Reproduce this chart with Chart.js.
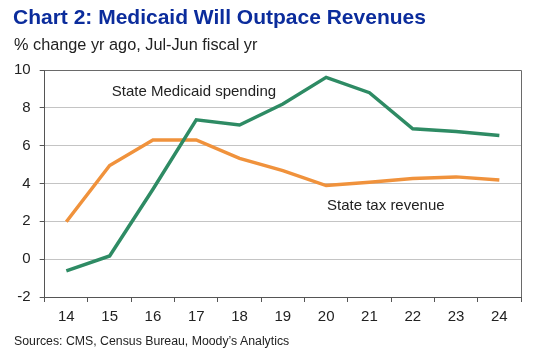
<!DOCTYPE html>
<html>
<head>
<meta charset="utf-8">
<script src="https://cdn.jsdelivr.net/npm/chart.js@4/dist/chart.umd.min.js"></script>
<style>
  html, body { margin: 0; padding: 0; background: #fff; }
  body { width: 547px; height: 354px; position: relative; overflow: hidden; font-family: "Liberation Sans", Arial, sans-serif; }
  #title { position: absolute; left: 13px; top: 5px; font-size: 21px; font-weight: bold; color: #0b2c9c; white-space: nowrap; }
  #subtitle { position: absolute; left: 14px; top: 35px; font-size: 16.3px; color: #222; white-space: nowrap; }
  #footer { position: absolute; left: 14px; top: 334px; font-size: 12.3px; color: #222; white-space: nowrap; }
  #wrap { position: absolute; left: 0; top: 0; width: 547px; height: 354px; }
</style>
</head>
<body>
<div id="wrap"><canvas id="c" width="547" height="354"></canvas></div>
<div id="title">Chart 2: Medicaid Will Outpace Revenues</div>
<div id="subtitle">% change yr ago, Jul-Jun fiscal yr</div>
<div id="footer">Sources: CMS, Census Bureau, Moody’s Analytics</div>
<script>
const categories = ["14", "15", "16", "17", "18", "19", "20", "21", "22", "23", "24"];
const medicaidSpending = [-0.62, 0.17, 3.7, 7.37, 7.09, 8.2, 9.61, 8.8, 6.89, 6.75, 6.54];
const stateTaxRevenue = [1.98, 4.95, 6.3, 6.3, 5.33, 4.68, 3.89, 4.07, 4.26, 4.35, 4.18];
const yTicks = [-2, 0, 2, 4, 6, 8, 10];

const labelPlugin = {
  id: 'seriesLabels',
  afterDatasetsDraw(chart) {
    const { ctx, scales } = chart;
    const labels = [
      { text: 'State Medicaid spending', i: 1.05, v: 8.85 },
      { text: 'State tax revenue', i: 6.02, v: 2.82 }
    ];
    ctx.save();
    ctx.font = '15px "Liberation Sans", Arial, sans-serif';
    ctx.fillStyle = '#222';
    ctx.textAlign = 'left';
    ctx.textBaseline = 'middle';
    labels.forEach(l => {
      ctx.fillText(l.text, scales.x.getPixelForValue(l.i), scales.y.getPixelForValue(l.v));
    });
    ctx.restore();
  }
};

const framePlugin = {
  id: 'frame',
  beforeDatasetsDraw(chart) {
    const { ctx, chartArea: a } = chart;
    ctx.save();
    ctx.lineWidth = 1;
    ctx.strokeStyle = '#6a6a6a';
    ctx.beginPath();
    ctx.moveTo(a.left, Math.round(a.top) + 0.5);
    ctx.lineTo(Math.round(a.right) + 0.5, Math.round(a.top) + 0.5);
    ctx.lineTo(Math.round(a.right) + 0.5, a.bottom);
    ctx.stroke();
    ctx.restore();
  }
};

new Chart(document.getElementById('c'), {
  type: 'line',
  data: {
    labels: categories,
    datasets: [
      { label: 'State Medicaid spending', data: medicaidSpending, borderColor: '#2e8b64', borderWidth: 3.5, pointRadius: 0, tension: 0, fill: false },
      { label: 'State tax revenue', data: stateTaxRevenue, borderColor: '#f0923c', borderWidth: 3.5, pointRadius: 0, tension: 0, fill: false }
    ]
  },
  options: {
    responsive: false,
    animation: false,
    devicePixelRatio: 1,
    layout: { padding: { left: 5, right: 26, top: 70, bottom: 22 } },
    plugins: { legend: { display: false }, tooltip: { enabled: false } },
    scales: {
      x: {
        offset: true,
        grid: { offset: true, drawOnChartArea: false, drawTicks: true, tickLength: 5, tickColor: '#555' },
        border: { color: '#555', width: 1 },
        ticks: { color: '#222', font: { size: 15, family: '"Liberation Sans", Arial, sans-serif' }, padding: 6, maxRotation: 0 }
      },
      y: {
        min: -2, max: 10,
        afterBuildTicks(scale) { scale.ticks = yTicks.map(v => ({ value: v })); },
        grid: { color: '#c4c4c4', lineWidth: 1, tickLength: 5, tickColor: '#555' },
        border: { color: '#555', width: 1 },
        ticks: { color: '#222', font: { size: 15, family: '"Liberation Sans", Arial, sans-serif' }, padding: 9 }
      }
    }
  },
  plugins: [framePlugin, labelPlugin]
});
</script>
</body>
</html>
